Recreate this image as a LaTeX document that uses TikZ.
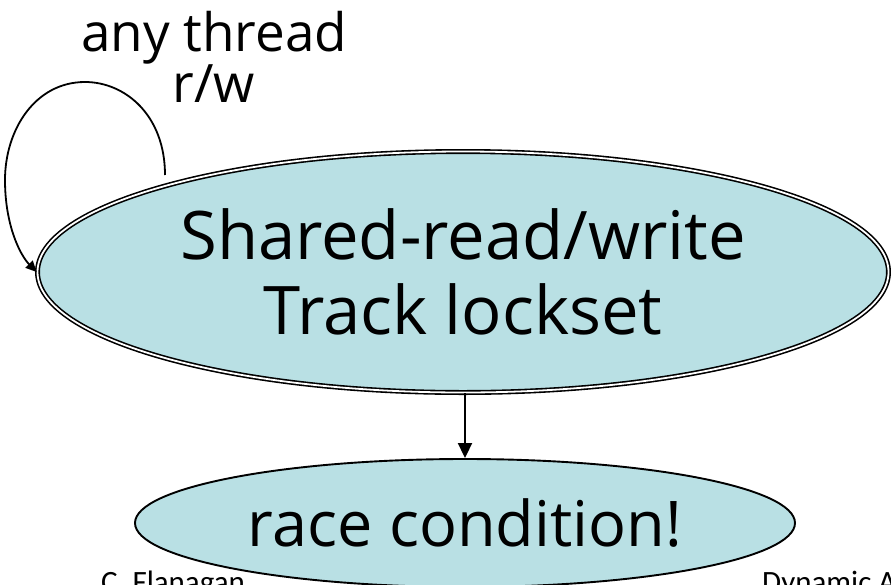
\documentclass[tikz,border=0pt]{standalone}
\usepackage{fontspec}
\setmainfont{Open Sans}
\newfontfamily\footfont{Carlito}
\usetikzlibrary{shapes.geometric,arrows.meta}
\definecolor{stfill}{RGB}{185,224,228}
\tikzset{
  stateA/.style={ellipse, draw=black, line width=1.6pt, double=white, double distance=1.8pt,
    fill=stfill, inner sep=0pt, align=center},
  stateB/.style={ellipse, draw=black, line width=1.9pt, fill=stfill, inner sep=0pt, align=center},
  conn/.style={line width=1.9pt, -{Triangle[length=15pt,width=14pt]}},
  loopconn/.style={line width=1.8pt, -{Triangle[length=11pt,width=10pt]}},
  foot/.style={font=\footfont\fontsize{31}{36}\selectfont, inner sep=0pt}
}
\begin{document}
\begin{tikzpicture}[x=1pt,y=-1pt]
\useasboundingbox (0,0) rectangle (891,584);
\node[foot, anchor=base west] (f1) at (101,592) {C. Flanagan};
\node[foot, anchor=base west] (f2) at (762,592) {Dynamic A};
\node[stateA, minimum width=851pt, minimum height=241pt,
  font=\fontsize{67}{75}\selectfont] (sh) at (463,272) {Shared-read/write\\Track lockset};
\node[stateB, minimum width=660pt, minimum height=128pt,
  font=\fontsize{63}{75}\selectfont] (rc) at (465,523) {race condition!};
\draw[conn] (sh.south -| rc.north) -- (rc.north);
\coordinate (ls) at (165,175);
\draw[loopconn] (ls) .. controls (165,115) and (125,82) .. (85,82)
  .. controls (35,82) and (5,130) .. (5,180)
  .. controls (5,225) and (20,255) .. (sh.west);
\node[align=center, inner sep=0pt, font=\fontsize{53}{45}\selectfont] (lbl) at (214,57) {any thread\\r/w};
\end{tikzpicture}
\end{document}
